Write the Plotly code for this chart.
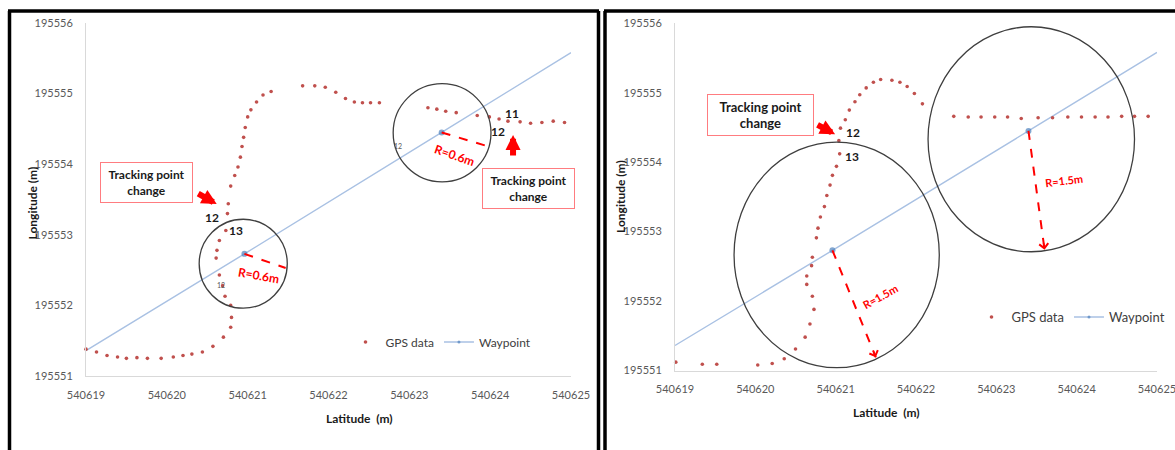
import plotly.graph_objects as go

# ---------------- data ----------------
# GPS fixes recorded with a 0.6 m acceptance radius
gps_lat_a = [540619.00, 540619.13, 540619.26, 540619.39, 540619.50, 540619.63, 540619.76,
             540619.93, 540620.08, 540620.20, 540620.31, 540620.44, 540620.57, 540620.70,
             540620.79, 540620.80, 540620.79, 540620.72, 540620.69, 540620.65, 540620.61,
             540620.62, 540620.65, 540620.73, 540620.75, 540620.76, 540620.79, 540620.84,
             540620.88, 540620.91, 540620.93, 540620.95, 540620.97, 540621.00, 540621.04,
             540621.11, 540621.19, 540621.29,
             540621.68, 540621.83, 540621.96, 540622.09, 540622.21, 540622.32, 540622.42,
             540622.52, 540622.63,
             540623.23, 540623.34, 540623.45, 540623.58, 540623.84, 540623.99, 540624.11,
             540624.22, 540624.37, 540624.50, 540624.64, 540624.78, 540624.92]
gps_lon_a = [195551.38, 195551.34, 195551.29, 195551.27, 195551.25, 195551.26, 195551.25,
             195551.25, 195551.27, 195551.29, 195551.31, 195551.34, 195551.42, 195551.55,
             195551.69, 195551.83, 195552.00, 195552.13, 195552.28, 195552.43, 195552.67,
             195552.78, 195552.92, 195553.06, 195553.30, 195553.44, 195553.69, 195553.84,
             195553.96, 195554.10, 195554.25, 195554.38, 195554.52, 195554.67, 195554.77,
             195554.88, 195554.98, 195555.03,
             195555.11, 195555.11, 195555.09, 195555.02, 195554.93, 195554.88, 195554.87,
             195554.87, 195554.87,
             195554.80, 195554.78, 195554.75, 195554.73, 195554.69, 195554.67, 195554.64,
             195554.61, 195554.60, 195554.58, 195554.59, 195554.61, 195554.59]

# GPS fixes recorded with a 1.5 m acceptance radius
gps_lat_b = [540619.01, 540619.34, 540619.52, 540620.03, 540620.21, 540620.36, 540620.50,
             540620.62, 540620.68, 540620.73, 540620.71, 540620.64, 540620.64, 540620.70,
             540620.71, 540620.76, 540620.78, 540620.81, 540620.86, 540620.89, 540620.93,
             540620.96, 540621.01, 540621.05, 540621.04, 540621.06, 540621.12, 540621.17,
             540621.24, 540621.30, 540621.38, 540621.47, 540621.56, 540621.70, 540621.80,
             540621.89, 540621.98, 540622.08,
             540622.47, 540622.65, 540622.81, 540622.98, 540623.14, 540623.31, 540623.52,
             540623.70, 540623.89, 540624.06, 540624.23, 540624.39, 540624.56, 540624.72,
             540624.89]
gps_lon_b = [195551.12, 195551.09, 195551.09, 195551.08, 195551.10, 195551.17, 195551.31,
             195551.48, 195551.67, 195551.88, 195552.07, 195552.24, 195552.36, 195552.51,
             195552.63, 195552.91, 195553.05, 195553.21, 195553.36, 195553.52, 195553.67,
             195553.81, 195553.94, 195554.12, 195554.31, 195554.49, 195554.61, 195554.75,
             195554.87, 195554.97, 195555.07, 195555.15, 195555.19, 195555.18, 195555.15,
             195555.09, 195554.99, 195554.84,
             195554.66, 195554.65, 195554.65, 195554.65, 195554.65, 195554.63, 195554.64,
             195554.64, 195554.65, 195554.65, 195554.65, 195554.65, 195554.66, 195554.66,
             195554.66]

# planned path; the two middle entries are the waypoints
path_lat = [540619.00, 540620.96, 540623.40, 540625.00]
path_lon = [195551.36, 195552.73, 195554.45, 195555.58]
path_marker = [0, 6, 6, 0]

x_ticks = [540619, 540620, 540621, 540622, 540623, 540624, 540625]
x_tick_text = ["540619", "540620", "540621", "540622", "540623", "540624", "540625"]
y_ticks = [195551, 195552, 195553, 195554, 195555, 195556]
y_tick_text = ["195551", "195552", "195553", "195554", "195555", "195556"]

# acceptance circles (lat0, lat1, lon0, lon1)
circles_a = [(540620.40, 540621.49, 195551.96, 195553.22),
             (540622.80, 540624.01, 195553.75, 195555.14)]
circles_b = [(540619.735, 540622.29, 195551.04, 195554.29),
             (540622.15, 540624.72, 195552.71, 195555.95)]

# radius arrows: waypoint -> circle edge, label position, label angle
radii_a = [((540620.96, 195552.73), (540621.47, 195552.53), (540621.14, 195552.43), 10, "R=0.6m"),
           ((540623.40, 195554.45), (540623.98, 195554.25), (540623.57, 195554.13), 19, "R=0.6m")]
radii_b = [((540620.96, 195552.73), (540621.50, 195551.19), (540621.55, 195552.07), -29, "R=1.5m"),
           ((540623.40, 195554.45), (540623.60, 195552.74), (540623.84, 195553.74), -7, "R=1.5m")]

W, H = 1175, 450
FONT = "Lato, 'Open Sans', Arial, sans-serif"
GPS_RED = "#c0504d"
PATH_BLUE = "#a9c1e3"
WP_BLUE = "#4f81bd"


def px(x):
    return x / W


def py(y):
    return 1 - y / H


fig = go.Figure()

for xa, ya, lat, lon, leg in [("x", "y", gps_lat_a, gps_lon_a, "legend"),
                              ("x2", "y2", gps_lat_b, gps_lon_b, "legend2")]:
    fig.add_trace(go.Scatter(
        x=path_lat, y=path_lon, xaxis=xa, yaxis=ya, name="Waypoint", mode="lines+markers",
        line=dict(color=PATH_BLUE, width=1.4),
        marker=dict(color=WP_BLUE, size=path_marker, line=dict(width=0)),
        legend=leg, legendrank=2, cliponaxis=False))
    fig.add_trace(go.Scatter(
        x=lat, y=lon, xaxis=xa, yaxis=ya, name="GPS data", mode="markers",
        marker=dict(color=GPS_RED, size=3.6, line=dict(width=0)),
        legend=leg, legendrank=1, cliponaxis=False))

axis_common = dict(showgrid=False, zeroline=False, showline=True, linecolor="#d9d9d9",
                   linewidth=1, ticks="", automargin=False, ticklabeloverflow="allow",
                   tickfont=dict(family=FONT, size=11, color="#595959"))

fig.update_layout(
    width=W, height=H, margin=dict(l=0, r=0, t=0, b=0, autoexpand=False),
    paper_bgcolor="white", plot_bgcolor="white",
    xaxis=dict(domain=[px(86), px(571)], range=[540619, 540625], anchor="y",
               tickvals=x_ticks, ticktext=x_tick_text, ticklabelstandoff=9, **axis_common),
    yaxis=dict(domain=[py(376), py(23)], range=[195551, 195556], anchor="x",
               tickvals=y_ticks, ticktext=y_tick_text, ticklabelstandoff=10, **axis_common),
    xaxis2=dict(domain=[px(675), px(1157)], range=[540619, 540625], anchor="y2",
                tickvals=x_ticks, ticktext=x_tick_text, ticklabelstandoff=8, **axis_common),
    yaxis2=dict(domain=[py(370.5), py(23.3)], range=[195551, 195556], anchor="x2",
                tickvals=y_ticks, ticktext=y_tick_text, ticklabelstandoff=10, **axis_common),
    legend=dict(orientation="h", x=px(441), y=py(342), xanchor="center", yanchor="middle",
                font=dict(family=FONT, size=12, color="#404040"), bgcolor="rgba(0,0,0,0)",
                itemwidth=30, tracegroupgap=0),
    legend2=dict(orientation="h", x=px(1071), y=py(317), xanchor="center", yanchor="middle",
                 font=dict(family=FONT, size=13, color="#404040"), bgcolor="rgba(0,0,0,0)",
                 itemwidth=30, tracegroupgap=0),
)

shapes = []
annotations = []

# acceptance circles
for xr, yr, circles in [("x", "y", circles_a), ("x2", "y2", circles_b)]:
    for (x0, x1, y0, y1) in circles:
        shapes.append(dict(type="circle", xref=xr, yref=yr, x0=x0, x1=x1, y0=y0, y1=y1,
                           line=dict(color="#3f3f3f", width=1.3), layer="above"))

# dashed radius arrows with labels
for xr, yr, radii, fsize in [("x", "y", radii_a, 12), ("x2", "y2", radii_b, 11)]:
    for (start, end, lab, ang, txt) in radii:
        shapes.append(dict(type="line", xref=xr, yref=yr, x0=start[0], y0=start[1],
                           x1=end[0], y1=end[1], line=dict(color="#ff0000", width=2, dash="dash")))
        tail = (start[0] + 0.93 * (end[0] - start[0]), start[1] + 0.93 * (end[1] - start[1]))
        annotations.append(dict(xref=xr, yref=yr, x=end[0], y=end[1], axref=xr, ayref=yr,
                                ax=tail[0], ay=tail[1], text="", showarrow=True,
                                arrowhead=4, arrowsize=1.1, arrowwidth=1.6, arrowcolor="#ff0000"))
        annotations.append(dict(xref=xr, yref=yr, x=lab[0], y=lab[1], text="<b>%s</b>" % txt,
                                showarrow=False, textangle=ang,
                                font=dict(family=FONT, size=fsize, color="#ff0000")))

# "Tracking point change" call-outs: (axis, center, width, height, font size)
callouts = [("x", "y", (540619.746, 195553.737), 89, 37, 12),
            ("x", "y", (540624.468, 195553.652), 89, 37, 12),
            ("x2", "y2", (540620.059, 195554.676), 103, 38, 13)]
for xr, yr, c, w, h, fs in callouts:
    annotations.append(dict(xref=xr, yref=yr, x=c[0], y=c[1], showarrow=False,
                            text="<b>Tracking point<br>change</b>", width=w, height=h,
                            bordercolor="#ff7c80", borderwidth=1, borderpad=1, bgcolor="white",
                            font=dict(family=FONT, size=fs, color="#1a1a1a")))

# thick red pointer arrows: (axis, head, tail)
pointers = [("x", "y", (540620.617, 195553.436), (540620.370, 195553.596)),
            ("x", "y", (540624.283, 195554.414), (540624.283, 195554.102)),
            ("x2", "y2", (540620.993, 195554.401), (540620.756, 195554.549))]
for xr, yr, head, tail in pointers:
    annotations.append(dict(xref=xr, yref=yr, x=head[0], y=head[1], axref=xr, ayref=yr,
                            ax=tail[0], ay=tail[1], text="", showarrow=True, arrowhead=2,
                            arrowsize=0.5, arrowwidth=6, arrowcolor="#ff0000"))

# point index labels
index_labels = [("x", "y", 540620.563, 195553.248, "12", 12, "#1a1a1a", True),
                ("x", "y", 540620.852, 195553.068, "13", 12, "#1a1a1a", True),
                ("x", "y", 540624.274, 195554.721, "11", 12, "#1a1a1a", True),
                ("x", "y", 540624.101, 195554.460, "12", 12, "#1a1a1a", True),
                ("x", "y", 540622.864, 195554.258, "12", 7, "#595959", False),
                ("x", "y", 540620.666, 195552.289, "12", 7, "#595959", False),
                ("x2", "y2", 540621.210, 195554.434, "12", 12, "#1a1a1a", True),
                ("x2", "y2", 540621.200, 195554.088, "13", 12, "#1a1a1a", True)]
for xr, yr, x, y, t, fs, col, bold in index_labels:
    annotations.append(dict(xref=xr, yref=yr, x=x, y=y, showarrow=False,
                            text="<b>%s</b>" % t if bold else t,
                            font=dict(family=FONT, size=fs, color=col)))

# axis titles
for x, y, t, ang in [(324, 428, "Latitude  (m)", 0), (922, 422, "Latitude  (m)", 0),
                     (22, 203, "Longitude (m)", -90), (620, 197, "Longitude (m)", -90)]:
    annotations.append(dict(xref="paper", yref="paper", x=px(x), y=py(y), showarrow=False,
                            text="<b>%s</b>" % t, textangle=ang,
                            font=dict(family=FONT, size=12, color="#1a1a1a")))

# panel frames
frame = dict(color="black", width=3.5)
for x0, y0, x1, y1 in [(9.5, 11, 9.5, 450), (8, 11, 599, 11), (598.5, 11, 598.5, 450),
                       (605, 11, 605, 450), (604, 11, 1175, 11)]:
    shapes.append(dict(type="line", xref="paper", yref="paper",
                       x0=px(x0), y0=py(y0), x1=px(x1), y1=py(y1), line=frame))

fig.update_layout(shapes=shapes, annotations=annotations)
fig.write_html("out.html")
